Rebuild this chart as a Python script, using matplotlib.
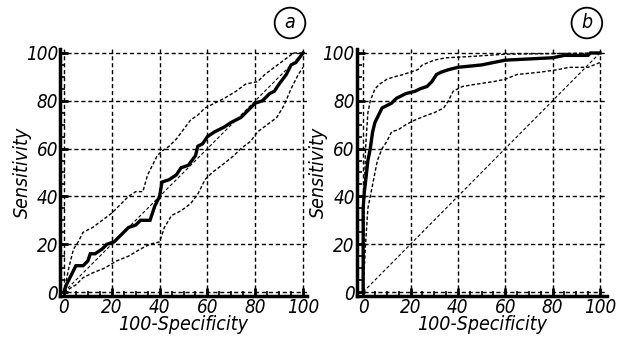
import matplotlib
matplotlib.use("Agg")
import matplotlib.pyplot as plt
from matplotlib.ticker import MultipleLocator

plt.rcParams['font.family'] = ['DejaVu Sans']
plt.rcParams['font.style'] = 'italic'
plt.rcParams['font.stretch'] = 'condensed'

# panel a
a_roc_x = [0, 1, 3, 5, 8, 10, 11, 13, 16, 18, 21, 24, 27, 30, 32, 36, 38, 40, 41, 44, 47, 49, 52, 55, 56, 58, 60, 63, 67, 70, 74, 77, 80, 83, 86, 88, 90, 93, 95, 97, 100]
a_roc_y = [0, 3, 7, 11, 11, 13, 16, 16, 18, 20, 21, 24, 27, 28, 30, 30, 36, 40, 46, 47, 49, 52, 53, 57, 61, 62, 65, 67, 69, 71, 73, 76, 79, 80, 83, 84, 87, 91, 95, 96, 100]
a_hi_x = [0, 2, 4, 6, 8, 12, 16, 20, 24, 27, 30, 33, 35, 37, 39, 41, 44, 47, 50, 53, 56, 59, 63, 67, 72, 76, 81, 84, 88, 92, 96, 100]
a_hi_y = [0, 10, 18, 21, 25, 27, 30, 33, 37, 40, 42, 42, 49, 53, 57, 59, 61, 64, 68, 72, 74, 77, 79, 81, 84, 87, 88, 91, 94, 97, 100, 100]
a_lo_x = [0, 5, 8, 12, 17, 22, 27, 32, 36, 40, 42, 45, 49, 53, 56, 59, 62, 66, 71, 74, 78, 81, 85, 89, 92, 95, 98, 100]
a_lo_y = [0, 3, 6, 8, 10, 13, 15, 18, 20, 21, 27, 32, 34, 37, 41, 47, 50, 53, 57, 60, 63, 67, 70, 73, 78, 85, 91, 94]

# panel b
b_roc_x = [0, 0, 0.5, 1, 2, 3, 4, 5, 6, 7, 8, 10, 12, 14, 16, 18, 22, 24, 27, 29, 31, 33, 36, 40, 45, 50, 55, 60, 70, 80, 85, 95, 96, 100]
b_roc_y = [0, 35, 42, 46, 55, 60, 67, 71, 73, 75, 77, 78, 79, 81, 82, 83, 84, 85, 86, 88, 91, 92, 93, 94, 94.5, 95, 96, 97, 97.5, 98, 99, 99, 100, 100]
b_hi_x = [0, 0.5, 1, 2, 3, 5, 7, 10, 13, 17, 20, 23, 25, 30, 35, 45, 60, 100]
b_hi_y = [0, 40, 60, 75, 80, 85, 87, 89, 90, 91, 92, 93, 95, 97, 98, 98.5, 99.5, 100]
b_lo_x = [0, 1, 2, 4, 6, 8, 10, 12, 15, 18, 22, 27, 30, 34, 36, 38, 42, 48, 55, 60, 65, 75, 82, 87, 95, 100]
b_lo_y = [0, 20, 35, 45, 55, 60, 63, 67, 68, 70, 72, 74, 75, 77, 80, 84, 86, 87, 88, 89, 91, 92, 93, 94, 94, 96]

ticks = [0, 20, 40, 60, 80, 100]

fig = plt.figure(figsize=(6.25, 3.44), dpi=100)
ax1 = fig.add_axes([0.0966, 0.1407, 0.394, 0.7157])
ax2 = fig.add_axes([0.5712, 0.1407, 0.400, 0.7157])

panels = [
    (ax1, a_roc_x, a_roc_y, a_hi_x, a_hi_y, a_lo_x, a_lo_y, (-1.5, 101.5), 'a', 0.464),
    (ax2, b_roc_x, b_roc_y, b_hi_x, b_hi_y, b_lo_x, b_lo_y, (-2.6, 103), 'b', 0.939),
]

for ax, rx, ry, hx, hy, lx, ly, xl, letra, lx_fig in panels:
    ax.plot([0, 100], [0, 100], color='black', lw=0.8, ls=(0, (3, 2)))
    ax.plot(hx, hy, color='black', lw=1.0, ls=(0, (2.5, 1.5)))
    ax.plot(lx, ly, color='black', lw=1.0, ls=(0, (2.5, 1.5)))
    ax.plot(rx, ry, color='black', lw=2.4, solid_joinstyle='miter')
    ax.set_xlim(xl)
    ax.set_ylim(-1.5, 101.5)
    ax.set_xticks(ticks)
    ax.set_yticks(ticks)
    ax.xaxis.set_minor_locator(MultipleLocator(5))
    ax.yaxis.set_minor_locator(MultipleLocator(5))
    ax.grid(True, which='major', color='black', lw=1.0, ls=(0, (3, 2)))
    ax.set_axisbelow(True)
    for s in ['top', 'right']:
        ax.spines[s].set_visible(False)
    for s in ['left', 'bottom']:
        ax.spines[s].set_linewidth(2.5)
    ax.tick_params(which='major', direction='in', length=6, width=2, labelsize=13.5, pad=1.5)
    ax.tick_params(which='minor', direction='in', length=3.5, width=1.2)
    ax.set_xlabel('100-Specificity', fontsize=14, labelpad=-1)
    ax.set_ylabel('Sensitivity', fontsize=14, labelpad=-4)
    fig.text(lx_fig, 1 - 23 / 344, letra, fontsize=14, ha='center', va='center',
             bbox=dict(boxstyle='circle,pad=0.3', fc='white', ec='black', lw=1.3))

fig.savefig('out.png', dpi=100)
